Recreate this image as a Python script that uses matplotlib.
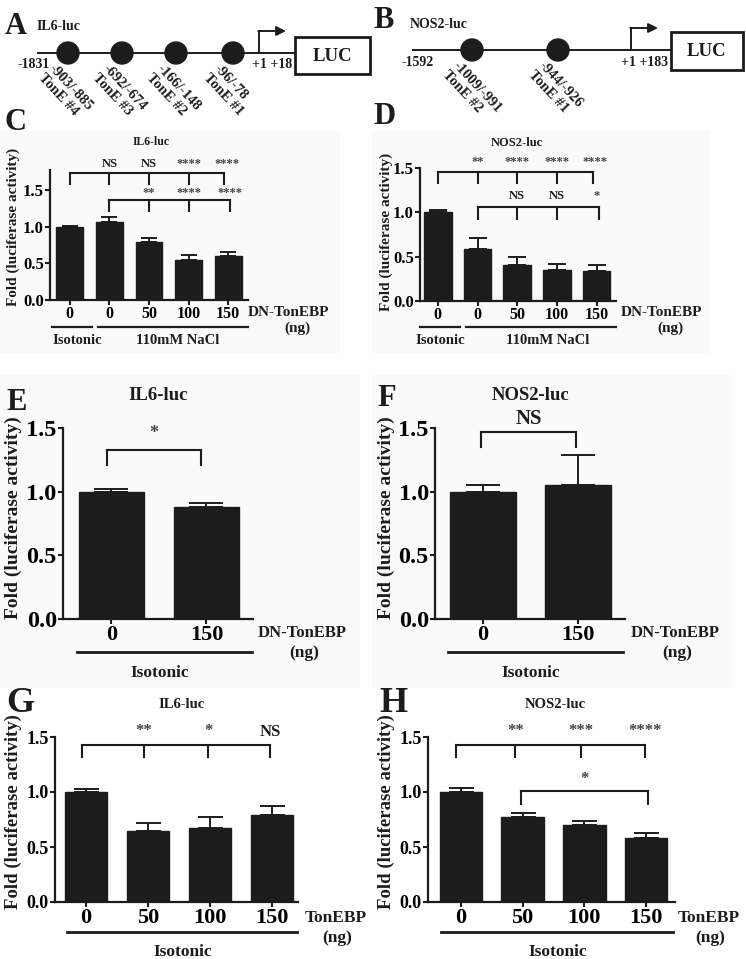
import numpy as np
import matplotlib
matplotlib.use('Agg')
import matplotlib.pyplot as plt
from matplotlib.patches import Circle, Rectangle

plt.rcParams['font.family'] = ['Liberation Serif', 'DejaVu Serif']
plt.rcParams['font.weight'] = 'bold'

W, H = 746, 959
K = '#1c1c1c'

# ---- data ----
# C / D : DN-TonEBP dose, isotonic vs 110mM NaCl
cd_ticks = ['0', '0', '50', '100', '150']
c_mean = [1.00, 1.07, 0.79, 0.55, 0.60]
c_sem = [0.02, 0.06, 0.06, 0.07, 0.06]
c_sig_iso = ['NS', 'NS', '****', '****']
c_sig_nacl = ['**', '****', '****']
d_mean = [1.00, 0.59, 0.41, 0.35, 0.34]
d_sem = [0.03, 0.12, 0.09, 0.07, 0.07]
d_sig_iso = ['**', '****', '****', '****']
d_sig_nacl = ['NS', 'NS', '*']

# E / F : DN-TonEBP, isotonic
ef_ticks = ['0', '150']
e_mean = [1.00, 0.88]
e_sem = [0.02, 0.03]
e_sig = '*'
f_mean = [1.00, 1.05]
f_sem = [0.05, 0.24]
f_sig = 'NS'

# G / H : TonEBP, isotonic
gh_ticks = ['0', '50', '100', '150']
g_mean = [1.00, 0.645, 0.675, 0.79]
g_sem = [0.025, 0.07, 0.10, 0.085]
g_sig = ['**', '*', 'NS']
h_mean = [1.00, 0.77, 0.70, 0.58]
h_sem = [0.035, 0.035, 0.04, 0.045]
h_sig = ['**', '***', '****']
h_sig_50 = '*'

# promoter maps
il6_sites = ['-903/-885\nTonE #4', '-692/-674\nTonE #3',
             '-166/-148\nTonE #2', '-96/-78\nTonE #1']
nos2_sites = ['-1009/-991\nTonE #2', '-944/-926\nTonE #1']

fig = plt.figure(figsize=(W / 100, H / 100), dpi=100)

# faint panel backgrounds
bg = fig.add_axes([0, 0, 1, 1])
bg.set_xlim(0, W)
bg.set_ylim(H, 0)
bg.axis('off')
for x0, y0, x1, y1 in [(0, 130, 340, 353), (372, 130, 710, 353),
                       (0, 375, 360, 688), (372, 375, 733, 688)]:
    bg.add_patch(Rectangle((x0, y0), x1 - x0, y1 - y0, color='#fafafa', lw=0))


def px_axes(left, right, bottom, top):
    return fig.add_axes([left / W, 1 - bottom / H, (right - left) / W, (bottom - top) / H])


def bar_panel(box, mean, sem, ticks, ymax, xlim, width, cap, fs_x, fs_y):
    ax = px_axes(*box)
    x = np.arange(len(mean))
    ax.bar(x, mean, width, color=K, edgecolor=K, zorder=2)
    ax.errorbar(x, mean, yerr=[np.zeros(len(mean)), sem], fmt='none', ecolor=K,
                elinewidth=1.4, capsize=cap, capthick=1.4, zorder=1)
    ax.set_xlim(*xlim)
    ax.set_ylim(0, ymax)
    ax.set_yticks([0, 0.5, 1.0, 1.5])
    ax.set_yticklabels(['0.0', '0.5', '1.0', '1.5'], fontsize=fs_y)
    ax.set_xticks(x)
    ax.set_xticklabels(ticks, fontsize=fs_x)
    for s in ['top', 'right']:
        ax.spines[s].set_visible(False)
    for s in ['left', 'bottom']:
        ax.spines[s].set_linewidth(1.6)
        ax.spines[s].set_color(K)
    ax.tick_params(width=1.5, length=3.5, color=K, pad=1)
    ax.patch.set_visible(False)
    return ax


def bracket(ax, xs, y, drop, labels, lx, ly, fs):
    ax.plot([xs[0], xs[-1]], [y, y], color=K, lw=1.5, clip_on=False)
    for xi in xs:
        ax.plot([xi, xi], [y, y - drop], color=K, lw=1.5, clip_on=False)
    for xi, t in zip(lx, labels):
        col = '#444444' if '*' in t else K
        ax.text(xi, ly, t, ha='center', va='center', fontsize=fs, color=col, clip_on=False)


# C
axc = bar_panel((50, 248, 300, 170), c_mean, c_sem, cd_ticks, 1.78, (-0.5, 4.5), 0.68, 6, 11.5, 12)
bracket(axc, [0, 1, 2, 3, 3.9], 1.74, 0.15, c_sig_iso, [1, 2, 3, 3.97], 1.86, 9)
bracket(axc, [1, 2, 3, 4.05], 1.37, 0.15, c_sig_nacl, [2, 3, 4.05], 1.47, 9)

# D
axd = bar_panel((420, 616, 301, 168), d_mean, d_sem, cd_ticks, 1.5, (-0.45, 4.49), 0.7, 6.5, 11.5, 12)
bracket(axd, [0, 1, 2, 3, 3.9], 1.46, 0.13, d_sig_iso, [1, 2, 3, 3.95], 1.57, 9)
bracket(axd, [1, 2, 3, 4.05], 1.06, 0.13, d_sig_nacl, [2, 3, 4.0], 1.18, 9)

# E
axe = bar_panel((63, 253, 619, 428), e_mean, e_sem, ef_ticks, 1.5, (-0.51, 1.49), 0.68, 12, 16, 17.5)
bracket(axe, [-0.05, 0.94], 1.33, 0.12, [e_sig], [0.45], 1.46, 13)

# F
axf = bar_panel((435, 625, 619, 428), f_mean, f_sem, ef_ticks, 1.5, (-0.505, 1.495), 0.69, 12, 16, 17.5)
bracket(axf, [-0.02, 0.98], 1.47, 0.12, [f_sig], [0.48], 1.57, 15)

# G
axg = bar_panel((55, 298, 902, 737), g_mean, g_sem, gh_ticks, 1.5, (-0.5, 3.42), 0.68, 9, 16, 13)
bracket(axg, [-0.06, 0.93, 1.97, 2.97], 1.43, 0.11, g_sig, [0.93, 1.97, 2.97], 1.55, 12)

# H
axh = bar_panel((428, 675, 902, 737), h_mean, h_sem, gh_ticks, 1.5, (-0.535, 3.47), 0.69, 9, 16, 13)
bracket(axh, [-0.08, 0.88, 1.94, 2.98], 1.43, 0.11, h_sig, [0.88, 1.94, 2.98], 1.55, 12)
bracket(axh, [0.97, 3.03], 1.01, 0.12, [h_sig_50], [2.0], 1.12, 12)

# overlay in pixel coordinates for labels and promoter maps
ov = fig.add_axes([0, 0, 1, 1])
ov.set_xlim(0, W)
ov.set_ylim(H, 0)
ov.axis('off')
ov.patch.set_visible(False)


def t(x, y, s, fs, ha='center', **kw):
    ov.text(x, y, s, fontsize=fs, ha=ha, va='center', color=K, **kw)


def hline(x0, x1, y, lw=1.6):
    ov.plot([x0, x1], [y, y], color=K, lw=lw)


# panel letters
for x, y, s, fs in [(5, 27, 'A', 22), (373, 21, 'B', 22), (5, 123, 'C', 22), (373, 117, 'D', 22),
                    (6, 402, 'E', 22), (377, 399, 'F', 22), (6, 703, 'G', 26), (379, 703, 'H', 26)]:
    t(x, y, s, fs, ha='left')

# panel titles
t(151, 142, 'IL6-luc', 8.5)
t(517, 143, 'NOS2-luc', 9)
t(158, 395, 'IL6-luc', 13.5)
t(531, 395, 'NOS2-luc', 13.5)
t(182, 705, 'IL6-luc', 10.5)
t(555, 705, 'NOS2-luc', 10.5)

# y labels
for x, y, fs in [(13, 227, 11), (386, 232, 11), (13, 518, 14), (386, 518, 14),
                 (13, 812, 13.5), (386, 812, 13.5)]:
    t(x, y, 'Fold (luciferase activity)', fs, rotation=90)

# C / D group labels
t(248, 313, 'DN-TonEBP', 11, ha='left')
t(297, 328, '(ng)', 11)
hline(52, 92, 327)
hline(98, 248, 327)
t(77, 340, 'Isotonic', 10.5)
t(178, 340, '110mM NaCl', 10.5)

t(621, 313, 'DN-TonEBP', 11, ha='left')
t(670, 328, '(ng)', 11)
hline(420, 460, 327)
hline(466, 616, 327)
t(440, 340, 'Isotonic', 10.5)
t(548, 340, '110mM NaCl', 10.5)

# E / F
t(258, 633, 'DN-TonEBP', 12, ha='left')
t(304, 653, '(ng)', 12.5)
hline(77, 252, 652, 2)
t(160, 673, 'Isotonic', 12.5)
t(631, 633, 'DN-TonEBP', 12, ha='left')
t(677, 653, '(ng)', 12.5)
hline(448, 623, 652, 2)
t(531, 673, 'Isotonic', 12.5)

# G / H
t(305, 918, 'TonEBP', 12.5, ha='left')
t(337, 938, '(ng)', 12.5)
hline(67, 297, 932, 2)
t(183, 952, 'Isotonic', 12.5)
t(678, 918, 'TonEBP', 12.5, ha='left')
t(710, 938, '(ng)', 12.5)
hline(441, 673, 932, 2)
t(558, 952, 'Isotonic', 12.5)


def promoter(x0, x1, y, sites, site_x, start, end, tss_x, box, name, name_x, name_y):
    hline(x0, x1, y, 1.4)
    for cx, s in zip(site_x, sites):
        ov.add_patch(Circle((cx, y), 11, color=K, zorder=3))
        ov.text(cx - 12, y + 9, s, fontsize=10.5, ha='left', va='top', rotation=-47,
                rotation_mode='anchor', color=K, linespacing=1.1)
    ov.plot([tss_x, tss_x], [y, y - 22], color=K, lw=1.4)
    ov.annotate('', xy=(tss_x + 27, y - 22), xytext=(tss_x - 0.7, y - 22),
                arrowprops=dict(arrowstyle='-|>', color=K, lw=1.4, mutation_scale=14,
                                shrinkA=0, shrinkB=0))
    bx, by, bw, bh = box
    ov.add_patch(Rectangle((bx, by), bw, bh, fill=False, ec=K, lw=2))
    t(bx + bw / 2, by + bh / 2 + 1, 'LUC', 13.5)
    t(start[0], y + 12, start[1], 10)
    t(end[0], y + 12, end[1], 10)
    t(name_x, name_y, name, 10, ha='left')


promoter(38, 295, 53, il6_sites, [68, 122, 176, 233], (34, '-1831'), (272, '+1 +18'),
         259, (295, 37, 75, 37), 'IL6-luc', 37, 27)
promoter(413, 671, 50, nos2_sites, [472, 558], (418, '-1592'), (645, '+1 +183'),
         631, (671, 32, 72, 38), 'NOS2-luc', 410, 25)

fig.savefig('out.png', dpi=100)
